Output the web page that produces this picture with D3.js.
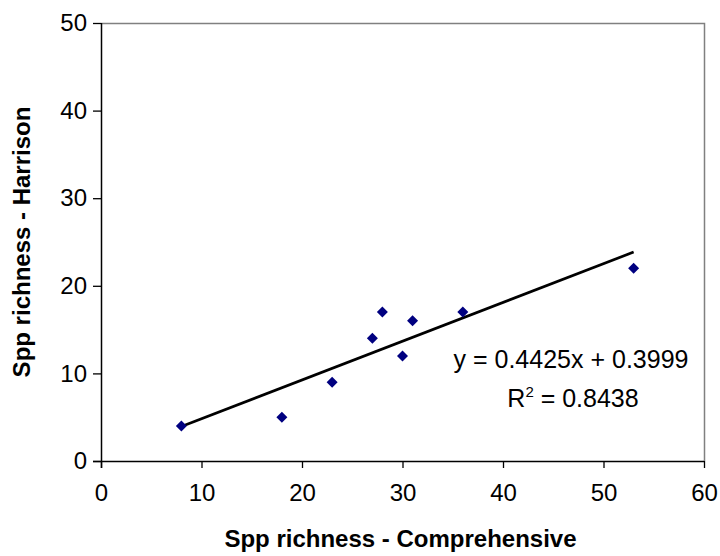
<!DOCTYPE html>
<html>
<head>
<meta charset="utf-8">
<script src="https://cdn.jsdelivr.net/npm/d3@7"></script>
<style>
  html, body { margin: 0; padding: 0; background: #fff; }
  svg { display: block; font-family: "Liberation Sans", Arial, sans-serif; }
</style>
</head>
<body>
<svg id="chart" width="720" height="556"></svg>
<script>
// Data
const comprehensive = [8, 18, 23, 27, 28, 30, 31, 36, 53];
const harrison      = [4, 5, 9, 14, 17, 12, 16, 17, 22];
const xTicks = [0, 10, 20, 30, 40, 50, 60];
const yTicks = [0, 10, 20, 30, 40, 50];
const trendSlope = 0.4425;
const trendIntercept = 0.3999;
const trendRange = [8, 53];
const eqLabel = "y = 0.4425x + 0.3999";
const r2Value = "0.8438";
const xTitle = "Spp richness - Comprehensive";
const yTitle = "Spp richness - Harrison";

const svg = d3.select("#chart");
const pL = 101, pR = 704, pT = 23, pB = 461;

const x = d3.scaleLinear().domain([0, 60]).range([pL, pR]);
const y = d3.scaleLinear().domain([0, 50]).range([pB, pT]);

// plot area border (gray top/right)
svg.append("path")
  .attr("d", `M${pL},${pT + 0.5}H${pR + 0.5}V${pB}`)
  .attr("fill", "none").attr("stroke", "#808080").attr("stroke-width", 1.5);

// X axis
const xAxis = svg.append("g")
  .attr("transform", `translate(0,${pB})`)
  .call(d3.axisBottom(x).tickValues(xTicks).tickSize(7).tickPadding(16).tickFormat(d3.format("d")));
xAxis.select(".domain").attr("stroke", "#000").attr("stroke-width", 1.5).attr("d", `M${pL - 8},0.5H${pR}`);
xAxis.selectAll(".tick line").attr("stroke", "#000").attr("stroke-width", 1.3);
xAxis.selectAll("text").attr("font-size", 24).attr("fill", "#000")
  .attr("font-family", "'Liberation Sans', Arial, sans-serif");

// Y axis
const yAxis = svg.append("g")
  .attr("transform", `translate(${pL},0)`)
  .call(d3.axisLeft(y).tickValues(yTicks).tickSize(8).tickPadding(6).tickFormat(d3.format("d")));
yAxis.select(".domain").attr("stroke", "#000").attr("stroke-width", 1.5).attr("d", `M0.5,${pT}V${pB + 7}`);
yAxis.selectAll(".tick line").attr("stroke", "#000").attr("stroke-width", 1.3);
yAxis.selectAll("text").attr("font-size", 24).attr("fill", "#000")
  .attr("font-family", "'Liberation Sans', Arial, sans-serif");

// Trendline
svg.append("line")
  .attr("x1", x(trendRange[0])).attr("y1", y(trendSlope * trendRange[0] + trendIntercept))
  .attr("x2", x(trendRange[1])).attr("y2", y(trendSlope * trendRange[1] + trendIntercept))
  .attr("stroke", "#000").attr("stroke-width", 2.7);

// Points (diamonds)
const pts = comprehensive.map((c, i) => ({ c, h: harrison[i] }));
svg.append("g").selectAll("path")
  .data(pts).join("path")
  .attr("transform", d => `translate(${x(d.c)},${y(d.h)})`)
  .attr("d", "M0,-5.5L5.5,0L0,5.5L-5.5,0Z")
  .attr("fill", "#000080");

// Equation labels
const eq = svg.append("g").attr("font-size", 25).attr("fill", "#000").attr("text-anchor", "middle");
eq.append("text").attr("x", 571).attr("y", 368).text(eqLabel);
const r2 = eq.append("text").attr("x", 573).attr("y", 407);
r2.append("tspan").text("R");
r2.append("tspan").attr("font-size", 15).attr("dy", -10).text("2");
r2.append("tspan").attr("dy", 10).text(" = " + r2Value);

// Axis titles
svg.append("text")
  .attr("x", (pL + pR) / 2 - 2).attr("y", 547)
  .attr("text-anchor", "middle").attr("font-size", 24).attr("font-weight", "bold")
  .text(xTitle);
svg.append("text")
  .attr("transform", `translate(30,${(pT + pB) / 2}) rotate(-90)`)
  .attr("text-anchor", "middle").attr("font-size", 24).attr("font-weight", "bold")
  .text(yTitle);
</script>
</body>
</html>
